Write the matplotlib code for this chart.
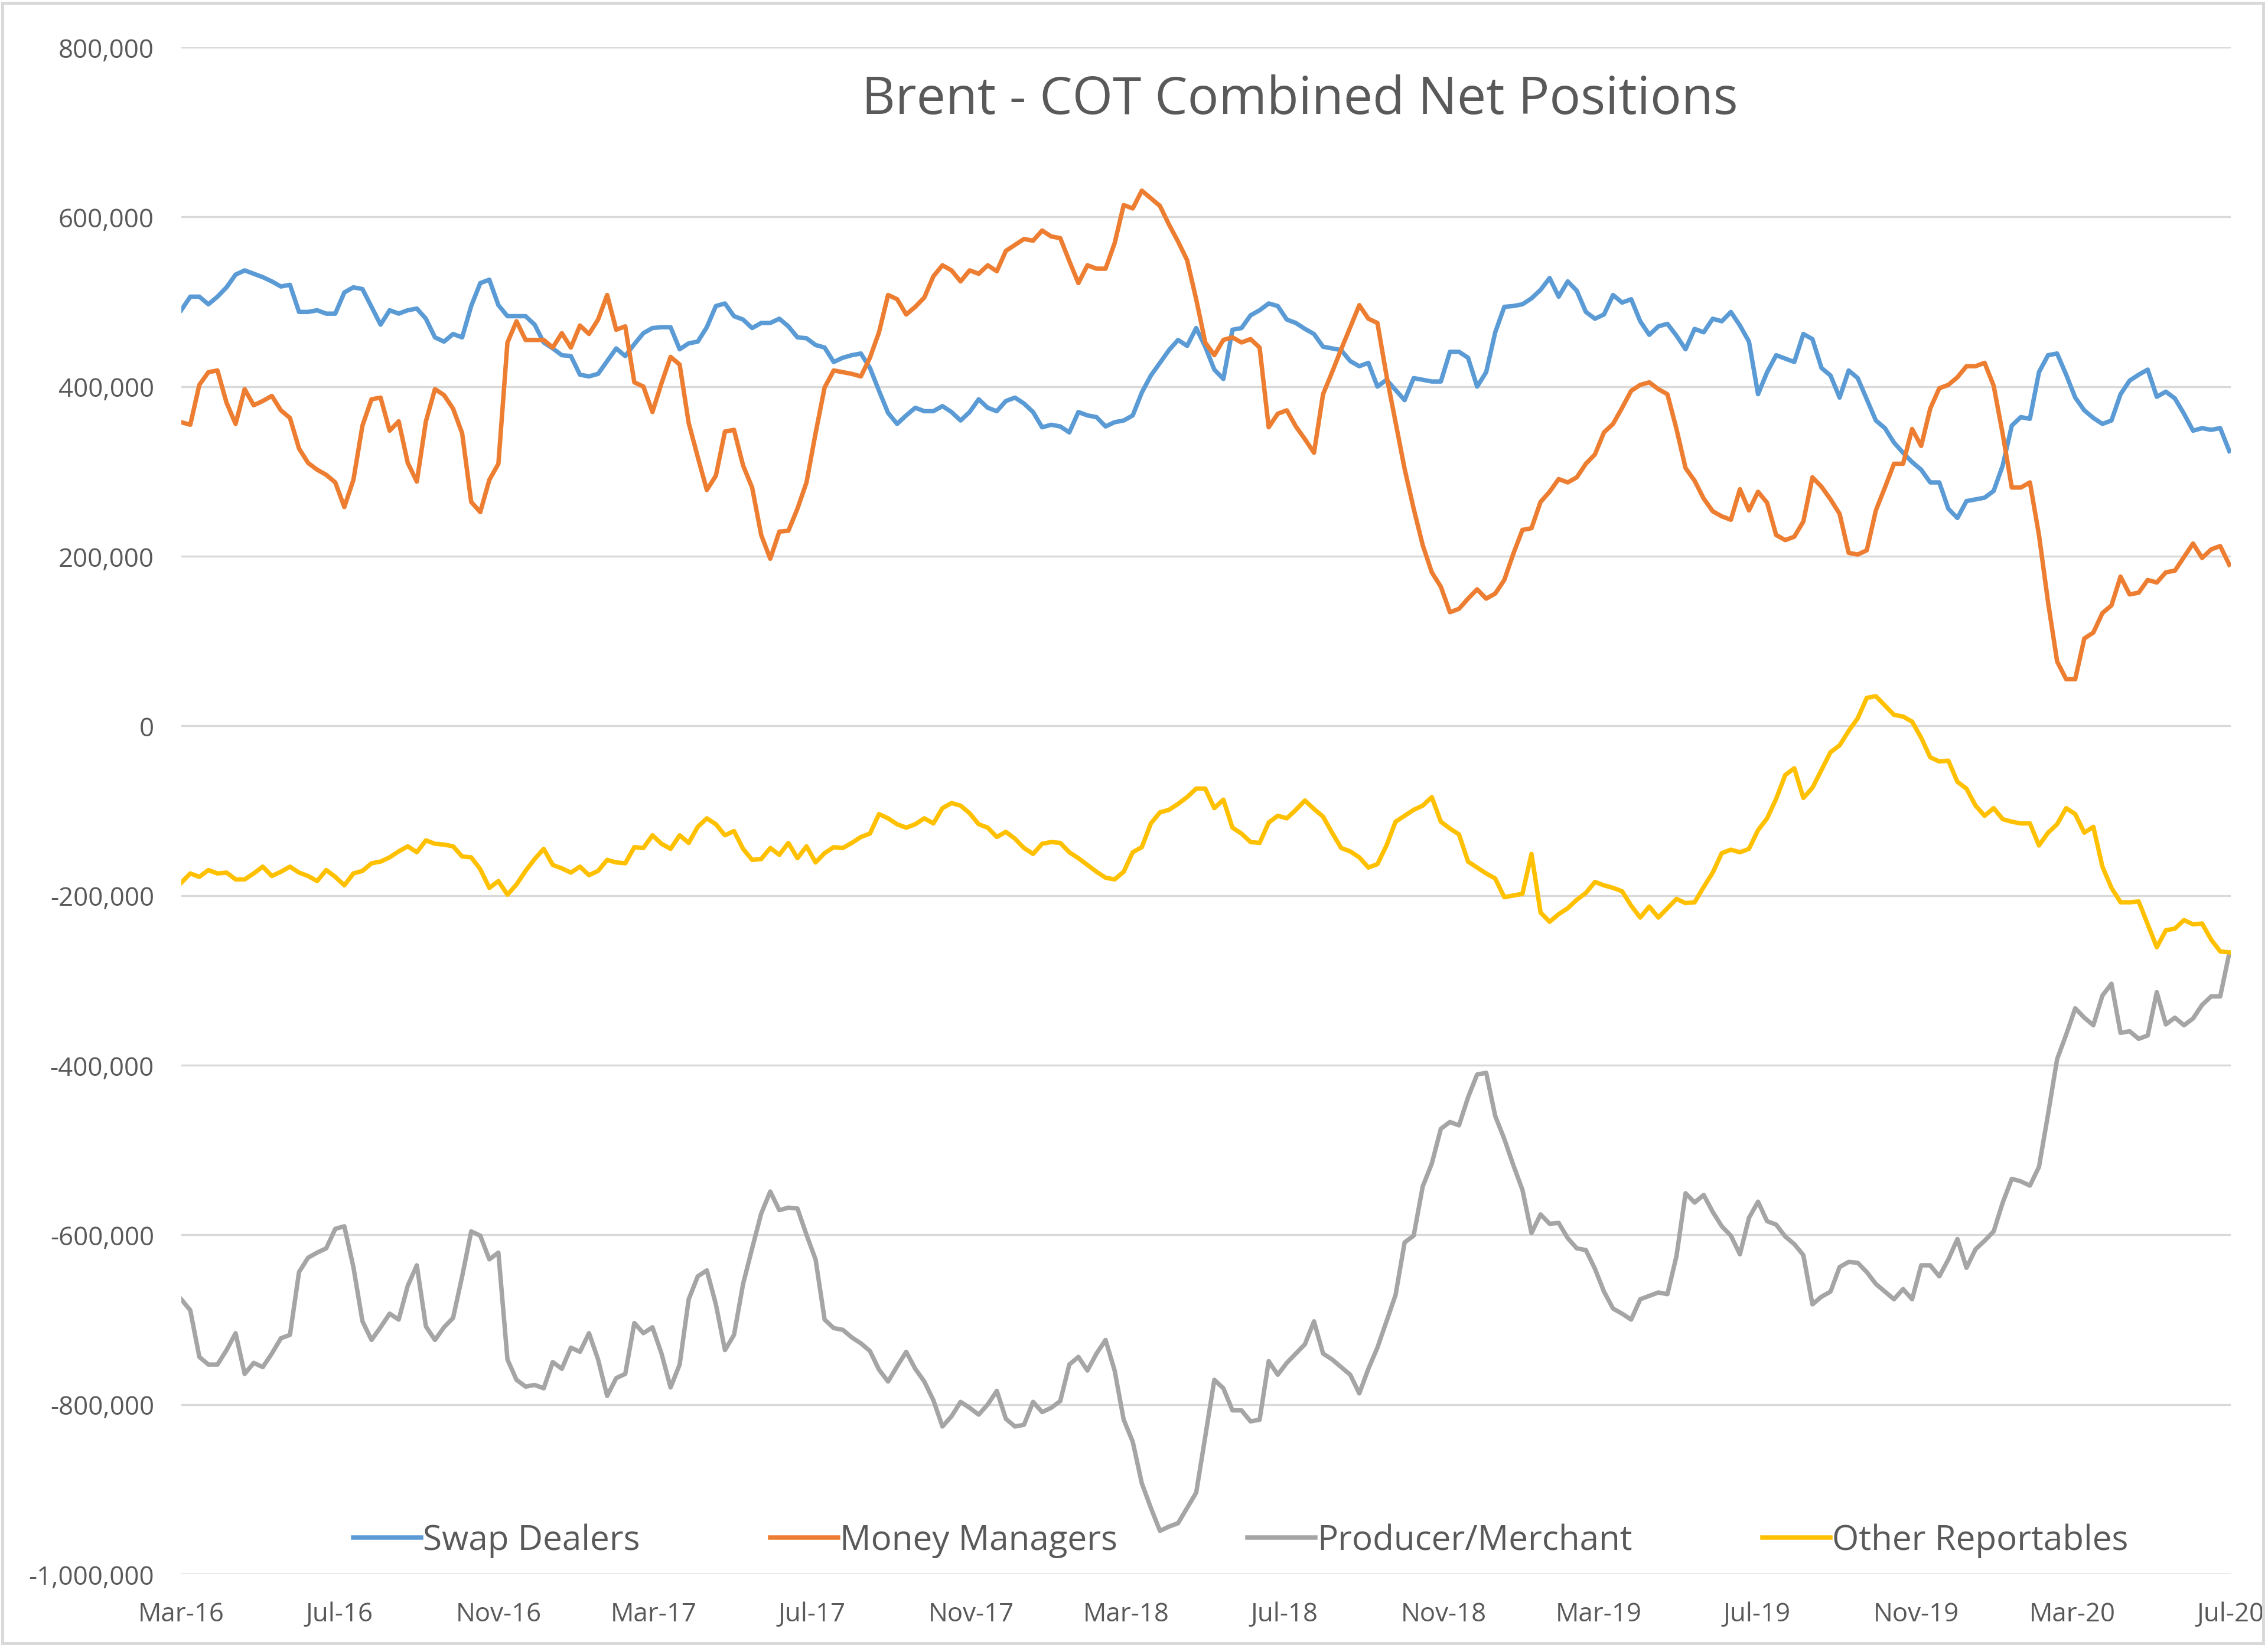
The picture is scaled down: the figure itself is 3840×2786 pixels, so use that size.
import pandas as pd
import matplotlib
matplotlib.use("Agg")
from matplotlib import pyplot as plt
from matplotlib.patches import Rectangle
from matplotlib.ticker import FuncFormatter
import matplotlib.dates as mdates

# Weekly COT report dates (Tuesdays)
dates = pd.date_range("2016-03-01", periods=227, freq="7D")

# Net positions, thousands of contracts
swap_dealers = [
    490, 506, 506, 497, 506, 517, 532, 537, 533, 529, 524, 518, 520, 488, 488, 490, 486, 486, 511, 517,
    515, 494, 473, 490, 486, 490, 492, 480, 458, 453, 462, 458, 495, 522, 526, 496, 483, 483, 483, 473,
    452, 445, 437, 436, 414, 412, 415, 430, 445, 436, 450, 463, 469, 470, 470, 444, 451, 453, 470,
    495, 498, 483, 479, 469, 475, 475, 480, 471, 458, 457, 449, 446, 429, 434, 437, 439, 422, 395, 369,
    356, 366, 375, 371, 371, 377, 370, 360, 370, 385, 375, 371, 383, 387, 380, 370, 352, 355, 353, 346,
    370, 366, 364, 353, 358, 360, 366, 393, 413, 428, 443, 455, 448, 469, 447, 420, 409,
    467, 469, 484, 490, 498, 495, 479, 475, 468, 462, 447, 445, 443, 430, 424, 428, 400, 408, 396, 384,
    410, 408, 406, 406, 441, 441, 434, 400, 417, 464, 494, 495, 497, 504, 514, 528, 506, 524, 513, 488,
    480, 485, 508, 499, 503, 477, 461, 471, 474, 460, 444, 468, 464, 480, 477, 488, 472,
    453, 391, 417, 437, 433, 429, 462, 456, 422, 413, 387, 419, 410, 385, 360, 351, 334, 322, 311, 302,
    287, 287, 256, 245, 265, 267, 269, 277, 307, 354, 364, 362, 417, 437, 439, 414, 387, 372, 363, 356,
    360, 391, 407, 414, 420, 388, 394, 386, 368, 348, 351, 349, 351, 324,
]
money_managers = [
    358, 355, 402, 417, 419, 381, 356, 397, 378, 383, 389, 372, 363, 327, 310, 302, 296, 287, 258, 290,
    354, 385, 387, 348, 359, 310, 288, 359, 397, 390, 374, 345, 264, 252, 290, 309, 452, 477, 455, 455,
    455, 446, 463, 446, 472, 462, 479, 508, 467, 471, 405, 400, 370, 404, 435, 426, 357, 317, 278,
    295, 347, 349, 307, 281, 225, 197, 229, 230, 256, 287, 345, 399, 419, 417, 415, 412, 434, 464, 508,
    503, 485, 494, 505, 530, 543, 537, 524, 537, 533, 543, 536, 560, 567, 574, 572, 584, 577, 575, 548,
    522, 543, 539, 539, 569, 614, 610, 631, 622, 613, 591, 571, 549, 503, 452, 437, 455,
    458, 452, 456, 446, 352, 368, 372, 353, 338, 322, 391, 417, 444, 470, 496, 480, 475, 413, 358, 303,
    256, 213, 181, 164, 134, 138, 150, 161, 150, 156, 172, 203, 231, 233, 264, 276, 291, 287, 293, 309,
    320, 346, 356, 375, 395, 402, 405, 397, 391, 350, 304, 289, 268, 253, 247, 243, 279,
    254, 276, 263, 225, 219, 223, 241, 293, 282, 267, 250, 204, 202, 207, 254, 281, 309, 309, 350, 330,
    374, 398, 402, 411, 424, 424, 428, 401, 344, 281, 281, 287, 225, 146, 76, 55, 55, 103, 110, 133,
    142, 176, 155, 157, 172, 169, 181, 183, 199, 215, 198, 208, 212, 190,
]
producer_merchant = [
    -676, -689, -744, -753, -753, -736, -716, -764, -751, -756, -740, -722, -718, -644, -627, -621, -616, -593, -590, -638,
    -702, -724, -709, -693, -700, -660, -636, -708, -724, -709, -698, -649, -596, -601, -629, -621, -747, -771, -779, -777,
    -781, -750, -758, -733, -738, -716, -747, -790, -769, -764, -704, -716, -709, -740, -780, -753, -676, -649, -642,
    -682, -736, -718, -658, -616, -575, -549, -571, -568, -569, -600, -629, -700, -710, -712, -721, -728, -737, -759, -773,
    -755, -738, -758, -773, -795, -826, -814, -797, -804, -812, -800, -784, -817, -826, -824, -797, -809, -804, -796, -753,
    -744, -760, -740, -724, -760, -818, -844, -893, -922, -949, -944, -940, -922, -904, -838, -771, -781,
    -807, -807, -820, -818, -749, -765, -751, -740, -729, -702, -740, -747, -756, -765, -787, -758, -733, -702, -671, -609,
    -601, -543, -516, -475, -467, -471, -438, -411, -409, -460, -487, -518, -547, -598, -576, -587, -586, -604, -616, -618,
    -640, -667, -687, -693, -700, -676, -672, -668, -670, -625, -551, -562, -553, -573, -590, -601, -623,
    -580, -561, -584, -588, -602, -611, -624, -682, -673, -667, -638, -632, -633, -644, -658, -667, -676, -664, -676, -636,
    -636, -649, -629, -605, -639, -617, -607, -596, -562, -534, -537, -542, -520, -458, -393, -364, -333, -344, -353, -318,
    -304, -362, -360, -369, -365, -314, -352, -344, -353, -345, -329, -319, -319, -268,
]
other_reportables = [
    -185, -174, -178, -170, -174, -173, -181, -181, -174, -166, -177, -172, -166, -173, -177, -183, -170, -178, -188, -174,
    -171, -162, -160, -155, -148, -142, -149, -135, -139, -140, -142, -154, -155, -169, -191, -183, -199, -187, -171, -157,
    -145, -164, -168, -173, -166, -176, -171, -158, -161, -162, -143, -144, -129, -139, -145, -129, -138, -119, -109,
    -116, -129, -124, -145, -158, -157, -144, -152, -138, -156, -142, -161, -150, -143, -144, -138, -131, -127, -104, -109,
    -116, -120, -116, -109, -115, -97, -91, -94, -103, -116, -120, -131, -125, -133, -144, -151, -139, -137, -138, -149,
    -156, -164, -172, -179, -181, -172, -149, -143, -115, -102, -99, -92, -84, -74, -74, -97, -87,
    -120, -127, -137, -138, -114, -106, -109, -99, -88, -98, -107, -126, -144, -148, -155, -167, -163, -141, -113, -106,
    -99, -94, -84, -113, -121, -128, -160, -167, -174, -180, -202, -200, -198, -151, -220, -231, -222, -215, -205, -197,
    -184, -188, -191, -195, -212, -226, -213, -226, -215, -204, -209, -208, -190, -173, -150, -146, -149,
    -145, -123, -109, -86, -58, -50, -85, -73, -52, -31, -23, -6, 9, 33, 35, 24, 13, 11, 5, -14,
    -37, -42, -41, -66, -74, -94, -106, -97, -110, -113, -115, -115, -141, -126, -116, -97, -104, -126, -119, -166,
    -191, -208, -208, -207, -234, -261, -241, -239, -229, -234, -233, -252, -266, -267,
]

series_names = ["Swap Dealers", "Money Managers", "Producer/Merchant", "Other Reportables"]
series_colors = ["#5B9BD5", "#ED7D31", "#A5A5A5", "#FFC000"]
y_ticks = list(range(-1000000, 800001, 200000))

df = pd.DataFrame({
    "Swap Dealers": swap_dealers,
    "Money Managers": money_managers,
    "Producer/Merchant": producer_merchant,
    "Other Reportables": other_reportables,
}, index=dates) * 1000

plt.rcParams["font.family"] = ["Open Sans", "DejaVu Sans"]
text_color = "#595959"

fig = plt.figure(figsize=(12.8, 9.29), dpi=300)
ax = fig.add_axes([0.0799, 0.0431, 0.9036, 0.9278])

for name, color in zip(series_names, series_colors):
    ax.plot(df.index, df[name], color=color, lw=1.8, label=name, solid_joinstyle="round")

ax.set_ylim(-1000000, 800000)
ax.set_yticks(y_ticks)
ax.yaxis.set_major_formatter(FuncFormatter(lambda v, p: f"{int(v):,}"))
ax.set_xlim(dates[0], pd.Timestamp("2020-07-01"))
ax.set_xticks(pd.date_range("2016-03-01", "2020-07-01", freq="4MS"))
ax.xaxis.set_major_formatter(mdates.DateFormatter("%b-%y"))

ax.grid(axis="y", color="#D9D9D9", lw=0.8)
ax.set_axisbelow(True)
for s in ax.spines.values():
    s.set_visible(False)
ax.tick_params(axis="both", length=0, labelsize=10.5, labelcolor=text_color)
ax.tick_params(axis="y", pad=11)
ax.tick_params(axis="x", pad=11)

fig.text(0.573, 0.939, "Brent - COT Combined Net Positions", ha="center", va="center",
         fontsize=21.1, color=text_color)

ax.legend(loc="center", bbox_to_anchor=(0.517, 0.022), ncol=4, frameon=False,
          fontsize=14, handlelength=1.97, handletextpad=0.05, columnspacing=3.78,
          labelcolor=text_color)

# thin chart-area border
fig.patches.append(Rectangle((0.001, 0.001), 0.997, 0.997, transform=fig.transFigure,
                             fill=False, edgecolor="#D9D9D9", lw=1.2))

fig.savefig("out.png", dpi=300)
